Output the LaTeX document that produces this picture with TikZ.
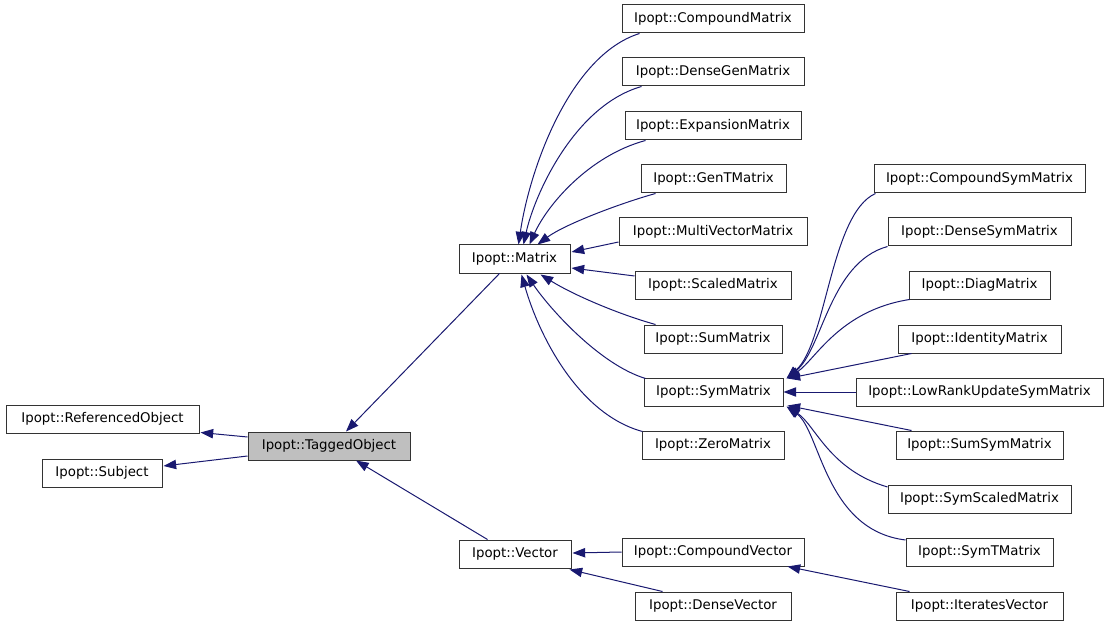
\documentclass[tikz,border=0pt]{standalone}
\usepackage{fontspec}
\setmainfont{DejaVu Sans}
\usetikzlibrary{arrows.meta,calc}
\definecolor{edgec}{HTML}{191970}
\definecolor{grayfill}{HTML}{BFBFBF}
\begin{document}
\begin{tikzpicture}[x=0.75pt,y=-0.75pt,
  box/.style={draw=black!80, line width=0.75pt, minimum height=21pt, inner sep=0pt, font=\fontsize{10}{12}\selectfont, text=black},
  edge/.style={draw=edgec, line width=0.75pt, {Triangle[length=9.5pt,width=7pt]}-}]
\useasboundingbox (0,0) rectangle (1109,627);
% nodes
\node[box,minimum width=144.75pt] (ref) at (102.5,419) {Ipopt::ReferencedObject};
\node[box,minimum width=90pt] (subj) at (102,473) {Ipopt::Subject};
\node[box,minimum width=121.5pt,fill=grayfill] (tag) at (329,446) {Ipopt::TaggedObject};
\node[box,minimum width=83.25pt] (mat) at (514.5,259) {Ipopt::Matrix};
\node[box,minimum width=84pt] (vec) at (515,554) {Ipopt::Vector};
\node[box,minimum width=136.5pt] (cm) at (713,19) {Ipopt::CompoundMatrix};
\node[box,minimum width=136.5pt] (dgm) at (713,72) {Ipopt::DenseGenMatrix};
\node[box,minimum width=132pt] (em) at (713,126) {Ipopt::ExpansionMatrix};
\node[box,minimum width=108.75pt] (gtm) at (713.5,179) {Ipopt::GenTMatrix};
\node[box,minimum width=141pt] (mvm) at (713,232) {Ipopt::MultiVectorMatrix};
\node[box,minimum width=117pt] (scm) at (713,285) {Ipopt::ScaledMatrix};
\node[box,minimum width=103.5pt] (sum) at (713,339) {Ipopt::SumMatrix};
\node[box,minimum width=104.25pt] (sym) at (713.5,392) {Ipopt::SymMatrix};
\node[box,minimum width=106.5pt] (zm) at (713,445) {Ipopt::ZeroMatrix};
\node[box,minimum width=136.5pt] (cv) at (713,552) {Ipopt::CompoundVector};
\node[box,minimum width=117pt] (dv) at (713,606) {Ipopt::DenseVector};
\node[box,minimum width=158.25pt] (csm) at (979.5,179) {Ipopt::CompoundSymMatrix};
\node[box,minimum width=137.25pt] (dsm) at (979.5,232) {Ipopt::DenseSymMatrix};
\node[box,minimum width=105.75pt] (diag) at (979.5,285) {Ipopt::DiagMatrix};
\node[box,minimum width=122.25pt] (idm) at (979.5,339) {Ipopt::IdentityMatrix};
\node[box,minimum width=185.25pt] (lr) at (979.5,392) {Ipopt::LowRankUpdateSymMatrix};
\node[box,minimum width=125.25pt] (ssm) at (979.5,445) {Ipopt::SumSymMatrix};
\node[box,minimum width=137.25pt] (sscm) at (979.5,499) {Ipopt::SymScaledMatrix};
\node[box,minimum width=110.25pt] (stm) at (979.5,552) {Ipopt::SymTMatrix};
\node[box,minimum width=125.25pt] (itv) at (979.5,606) {Ipopt::IteratesVector};
% edges: base classes of TaggedObject
\draw[edge] ($(ref.south east)+(1,-1)$) -- ($(tag.west)+(0,-9)$);
\draw[edge] ($(subj.east)+(1,-7)$) -- ($(tag.west)+(0,10)$);
\draw[edge] ($(tag.north)+(17,0)$) -- ($(mat.south west)+(41,0)$);
\draw[edge] ($(tag.south)+(27,0)$) -- ($(vec.north west)+(29,0)$);
% Matrix children
\draw[edge] ($(mat.north west)+(60,0)$) .. controls +(11,-75) and +(-70,22) .. ($(cm.south west)+(18,0)$);
\draw[edge] ($(mat.north west)+(65,0)$) .. controls +(11,-50) and +(-67,19) .. ($(dgm.south west)+(20,0)$);
\draw[edge] ($(mat.north west)+(71,0)$) .. controls +(18,-40) and +(-56,15) .. ($(em.south west)+(21,0)$);
\draw[edge] ($(mat.north west)+(79,0)$) .. controls +(27,-20) and +(-36,10) .. ($(gtm.south west)+(15,0)$);
\draw[edge] ($(mat.east)+(1,-7)$) -- ($(mvm.west)+(0,10)$);
\draw[edge] ($(mat.east)+(1,9)$) -- ($(scm.west)+(0,-9)$);
\draw[edge] ($(mat.south west)+(82,1)$) .. controls +(34,21) and +(-36,-10) .. ($(sum.north west)+(12,0)$);
\draw[edge] ($(mat.south west)+(68,1)$) .. controls +(23,34) and +(-46,-14) .. ($(sym.north west)+(2,1)$);
\draw[edge] ($(mat.south west)+(63,1)$) .. controls +(18,63) and +(-63,-17) .. ($(zm.north west)+(1,1)$);
% SymMatrix children
\draw[edge] ($(sym.north east)+(3,1)$) .. controls +(40,-35) and +(-45,20) .. ($(csm.south west)+(2,0)$);
\draw[edge] ($(sym.north east)+(3,1)$) .. controls +(36,-29) and +(-58,16) .. ($(dsm.south west)+(0,0)$);
\draw[edge] ($(sym.north east)+(4,1)$) .. controls +(28,-19) and +(-70,11) .. ($(diag.south west)+(1,0)$);
\draw[edge] ($(sym.north east)+(4,1)$) -- ($(idm.south west)+(14,0)$);
\draw[edge] (sym.east) -- (lr.west);
\draw[edge] ($(sym.south east)+(4,-1)$) -- ($(ssm.north west)+(16,0)$);
\draw[edge] ($(sym.south east)+(4,0)$) .. controls +(28,19) and +(-58,-17) .. ($(sscm.west)+(0,-12)$);
\draw[edge] ($(sym.south east)+(3,0)$) .. controls +(34,24) and +(-81,-10) .. ($(stm.west)+(0,-12)$);
% Vector children
\draw[edge] ($(vec.east)+(1,-1)$) -- (cv.west);
\draw[edge] ($(vec.south east)+(-2,1)$) -- ($(dv.north west)+(28,0)$);
\draw[edge] ($(cv.south east)+(-17,0)$) -- ($(itv.north west)+(14,0)$);
\end{tikzpicture}
\end{document}
